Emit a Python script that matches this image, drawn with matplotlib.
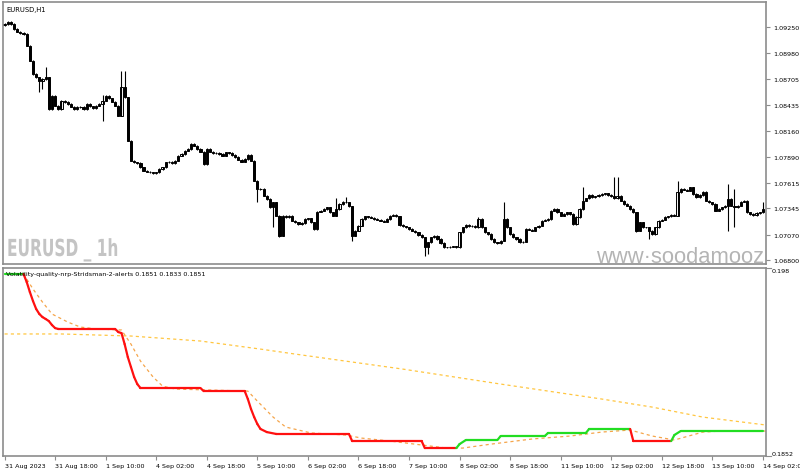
import matplotlib.pyplot as plt
from matplotlib.transforms import blended_transform_factory, Affine2D
from matplotlib.textpath import TextPath
from matplotlib.patches import PathPatch
from matplotlib.font_manager import FontProperties

# EURUSD H1 closes, one per bar (31 Aug 2023 02:00 .. 14 Sep 2023 02:00)
closes = [
    1.09285, 1.09303, 1.09285, 1.09232, 1.09204, 1.09190, 1.09180, 1.09057, 1.08899, 1.08759,
    1.08724, 1.08689, 1.08706, 1.08724, 1.08391, 1.08531, 1.08426, 1.08391, 1.08478, 1.08464,
    1.08443, 1.08415, 1.08391, 1.08409, 1.08409, 1.08391, 1.08443, 1.08419, 1.08398, 1.08426,
    1.08443, 1.08478, 1.08531, 1.08503, 1.08468, 1.08426, 1.08320, 1.08619, 1.08514, 1.08057,
    1.07847, 1.07830, 1.07823, 1.07777, 1.07742, 1.07731, 1.07725, 1.07717, 1.07725, 1.07760,
    1.07777, 1.07830, 1.07836, 1.07823, 1.07847, 1.07900, 1.07917, 1.07952, 1.07970, 1.08023,
    1.08005, 1.07970, 1.07942, 1.07812, 1.07970, 1.07942, 1.07928, 1.07928, 1.07917, 1.07900,
    1.07935, 1.07928, 1.07907, 1.07883, 1.07857, 1.07836, 1.07865, 1.07907, 1.07847, 1.07637,
    1.07549, 1.07549, 1.07479, 1.07444, 1.07357, 1.07409, 1.07268, 1.07058, 1.07268, 1.07252,
    1.07268, 1.07216, 1.07199, 1.07181, 1.07192, 1.07234, 1.07241, 1.07199, 1.07128, 1.07310,
    1.07321, 1.07339, 1.07357, 1.07304, 1.07268, 1.07339, 1.07391, 1.07416, 1.07409, 1.07367,
    1.07058, 1.07111, 1.07163, 1.07234, 1.07262, 1.07252, 1.07247, 1.07234, 1.07226, 1.07216,
    1.07205, 1.07234, 1.07268, 1.07276, 1.07262, 1.07170, 1.07157, 1.07146, 1.07128, 1.07111,
    1.07094, 1.07065, 1.07041, 1.06936, 1.06988, 1.07041, 1.07052, 1.07023, 1.06981, 1.06936,
    1.06936, 1.06942, 1.06946, 1.06936, 1.07094, 1.07146, 1.07170, 1.07157, 1.07163, 1.07146,
    1.07234, 1.07146, 1.07094, 1.07076, 1.07023, 1.06988, 1.06981, 1.07005, 1.07234, 1.07146,
    1.07076, 1.07041, 1.07023, 1.06988, 1.06995, 1.07128, 1.07121, 1.07111, 1.07146, 1.07163,
    1.07216, 1.07223, 1.07234, 1.07321, 1.07339, 1.07304, 1.07268, 1.07286, 1.07304, 1.07286,
    1.07181, 1.07252, 1.07339, 1.07426, 1.07451, 1.07486, 1.07462, 1.07472, 1.07486, 1.07497,
    1.07504, 1.07486, 1.07472, 1.07451, 1.07479, 1.07426, 1.07391, 1.07374, 1.07339, 1.07304,
    1.07111, 1.07199, 1.07146, 1.07146, 1.07111, 1.07076, 1.07146, 1.07216, 1.07226, 1.07252,
    1.07262, 1.07276, 1.07268, 1.07515, 1.07549, 1.07542, 1.07531, 1.07567, 1.07497, 1.07462,
    1.07486, 1.07515, 1.07426, 1.07409, 1.07391, 1.07321, 1.07339, 1.07357, 1.07374, 1.07444,
    1.07374, 1.07357, 1.07374, 1.07416, 1.07426, 1.07304, 1.07286, 1.07276, 1.07297, 1.07304,
    1.07339,
]
first_open = 1.09270

# wicks that stand out on the chart (bar index -> price)
spike_highs = {13: 1.08833, 31: 1.08540, 37: 1.08794, 38: 1.08794, 105: 1.07455, 108: 1.07465,
               150: 1.07255, 158: 1.07416, 183: 1.07567, 193: 1.07672, 194: 1.07672, 213: 1.07637,
               229: 1.07602, 231: 1.07549, 240: 1.07412}
spike_lows = {11: 1.08570, 12: 1.08601, 31: 1.08268, 80: 1.07412, 85: 1.07149, 87: 1.07040,
              110: 1.07005, 133: 1.06848, 134: 1.06865, 200: 1.07100, 204: 1.07023, 229: 1.07111,
              231: 1.07149}

price_ticks = [1.09250, 1.08980, 1.08705, 1.08435, 1.08160, 1.07890, 1.07615, 1.07345, 1.07070, 1.06800]

time_labels = ['31 Aug 2023', '31 Aug 18:00', '1 Sep 10:00', '4 Sep 02:00', '4 Sep 18:00',
               '5 Sep 10:00', '6 Sep 02:00', '6 Sep 18:00', '7 Sep 10:00', '8 Sep 02:00',
               '8 Sep 18:00', '11 Sep 10:00', '12 Sep 02:00', '12 Sep 18:00', '13 Sep 10:00',
               '14 Sep 02:00']
bars_per_label = 16

# Volatility quality main line: (bar, value), colour per segment
vq_bars = [0, 6, 7, 8, 9, 10, 11, 12, 13, 14, 15, 16, 17, 35, 36, 37, 38, 39, 40, 41, 42, 43,
           62, 63, 76, 77, 78, 79, 80, 81, 83, 86, 109, 110, 132, 133, 143, 144, 146, 156, 157,
           171, 172, 184, 185, 198, 199, 211, 212, 214, 240]
vq_vals = [0.19759, 0.19759, 0.19705, 0.19637, 0.19575, 0.19521, 0.19487, 0.19466, 0.19453,
           0.19439, 0.19412, 0.19391, 0.19385, 0.19385, 0.19364, 0.19357, 0.19282, 0.19194,
           0.19126, 0.19058, 0.19010, 0.18983, 0.18983, 0.18962, 0.18962, 0.18908, 0.18840,
           0.18785, 0.18738, 0.18704, 0.18683, 0.18670, 0.18670, 0.18622, 0.18622, 0.18574,
           0.18574, 0.18601, 0.18629, 0.18629, 0.18656, 0.18656, 0.18677, 0.18677, 0.18704,
           0.18704, 0.18622, 0.18622, 0.18663, 0.18690, 0.18690]
vq_up_ranges = [(0, 6), (143, 198), (211, 240)]

# signal lines
fast_bars = [6, 9, 12, 15, 20, 24, 29, 37, 40, 43, 47, 50, 54, 77, 80, 85, 89, 97, 108, 113,
             122, 132, 140, 145, 154, 167, 179, 189, 198, 205, 212, 221, 227, 241]
fast_vals = [0.19759, 0.19657, 0.19568, 0.19487, 0.19432, 0.19398, 0.19385, 0.19378, 0.19282,
             0.19167, 0.19058, 0.18996, 0.18976, 0.18962, 0.18894, 0.18785, 0.18717, 0.18677,
             0.18663, 0.18642, 0.18622, 0.18595, 0.18574, 0.18574, 0.18601, 0.18636, 0.18656,
             0.18683, 0.18697, 0.18656, 0.18629, 0.18683, 0.18690, 0.18690]
slow_bars = [0, 18, 40, 62, 81, 94, 126, 157, 189, 205, 221, 241]
slow_vals = [0.19351, 0.19351, 0.19337, 0.19303, 0.19248, 0.19208, 0.19112, 0.19010, 0.18908,
             0.18853, 0.18785, 0.18731]

frame_color = '#8c8c8c'
small = 4.6

fig = plt.figure(figsize=(8, 4.77), dpi=100)
ax = fig.add_axes([0.00375, 0.4444, 0.95375, 0.5493])
ax2 = fig.add_axes([0.00375, 0.0419, 0.95375, 0.3941])

# candles
opens = [first_open] + closes[:-1]
for i, (o, c) in enumerate(zip(opens, closes)):
    top = max(o, c)
    bot = min(o, c)
    hi = spike_highs.get(i, top + 0.00008)
    lo = spike_lows.get(i, bot - 0.00008)
    ax.vlines(i, lo, hi, color='black', lw=0.8)
    body = max(top - bot, 0.00003)
    if c >= o:
        ax.bar(i, body, bottom=bot, width=0.7, color='white', edgecolor='black', linewidth=0.7)
    else:
        ax.bar(i, body, bottom=bot, width=0.7, color='black', edgecolor='black', linewidth=0.7)

ax.set_xlim(-0.5, 241)
ax.set_ylim(1.06760, 1.09516)
ax.set_xticks([])
ax.yaxis.tick_right()
ax.set_yticks(price_ticks)
ax.set_yticklabels([f'{p:.5f}' for p in price_ticks])
ax.tick_params(axis='y', direction='out', length=3, width=0.8, color=frame_color,
               labelsize=small, pad=2)
for s in ax.spines.values():
    s.set_color(frame_color)
    s.set_linewidth(1.2)

ax.text(0.004, 0.985, 'EURUSD,H1', transform=ax.transAxes, fontsize=4.9, va='top', ha='left')

# condensed bold watermark, drawn as a scaled text path
wm = TextPath((0, 0), 'EURUSD _ 1h', size=1, prop=FontProperties(family='DejaVu Sans', weight='bold'))
wm_tr = Affine2D().scale(15.4 / 800, 23.5 / 477).translate(7 / 800, 220 / 477) + fig.transFigure
fig.patches.append(PathPatch(wm, transform=wm_tr, facecolor='#c4c4c4', edgecolor='none'))

ax.text(0.997, -0.01, 'www·soodamooz', transform=ax.transAxes, fontsize=15.8,
        family='Liberation Sans', color='#b4b4b4', va='bottom', ha='right', clip_on=True)

# indicator
def seg_color(b0):
    for a, b in vq_up_ranges:
        if a <= b0 < b:
            return '#22dd22'
    return '#ff1010'

ax2.plot(slow_bars, slow_vals, color='#ffc640', lw=0.9, ls=(0, (2.5, 2.5)))
ax2.plot(fast_bars, fast_vals, color='#f5a54a', lw=0.9, ls=(0, (2.5, 2.5)))
for k in range(len(vq_bars) - 1):
    ax2.plot(vq_bars[k:k + 2], vq_vals[k:k + 2], color=seg_color(vq_bars[k]), lw=1.6,
             solid_capstyle='round')

ax2.set_xlim(-0.5, 241)
ax2.set_ylim(0.1852, 0.198)
ax2.set_yticks([])
ticks = list(range(0, bars_per_label * len(time_labels), bars_per_label))
ax2.set_xticks(ticks)
ax2.set_xticklabels(time_labels, ha='left', fontsize=small)
ax2.tick_params(axis='x', direction='out', length=3, width=0.8, color=frame_color, pad=2)
for s in ax2.spines.values():
    s.set_color(frame_color)
    s.set_linewidth(1.2)

tr = blended_transform_factory(ax2.transAxes, ax2.transData)
ax2.text(1.008, 0.198, '0.198', transform=tr, fontsize=small, va='top', ha='left')
ax2.text(1.008, 0.1852, '0.1852', transform=tr, fontsize=small, va='bottom', ha='left')
ax2.plot([1.0, 1.006], [0.198, 0.198], transform=tr, color=frame_color, lw=0.8, clip_on=False)
ax2.plot([1.0, 1.006], [0.1852, 0.1852], transform=tr, color=frame_color, lw=0.8, clip_on=False)
ax2.text(0.004, 0.985, 'Volatility-quality-nrp-Stridsman-2-alerts 0.1851 0.1833 0.1851',
         transform=ax2.transAxes, fontsize=small, va='top', ha='left')

plt.savefig('out.png', dpi=100)
